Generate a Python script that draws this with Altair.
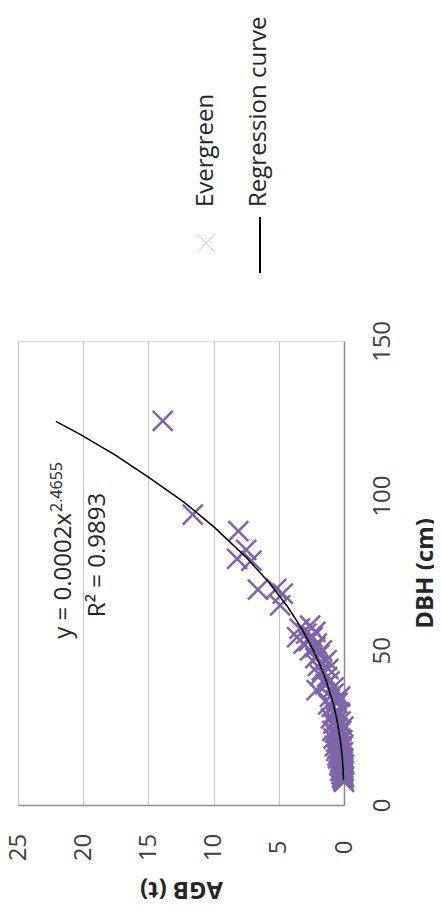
import altair as alt
import pandas as pd

# ---- data read from the (rotated) reference ----
dbh = [124.2, 93.9, 88.5, 82.5, 79.6, 79.0, 69.6, 69.9, 68.3, 64.5,
       57.0, 55.4, 54.3, 54.3, 52.2, 52.2, 50.0, 50.0, 56.0, 53.0, 58.0, 51.0,
       8.0, 8.5, 9.0, 9.5, 10.0, 10.0, 10.5, 11.0, 11.0, 11.5, 12.0, 12.0, 12.5,
       13.0, 13.0, 13.5, 14.0, 14.0, 14.5, 15.0, 15.0, 15.5, 16.0, 16.0, 17.0,
       17.0, 17.5, 18.0, 18.5, 19.0, 19.0, 20.0, 20.5, 21.0, 21.5, 22.0, 23.0,
       23.5, 24.0, 25.3, 25.0, 26.3, 27.0, 28.0, 29.6, 30.0, 31.7, 32.5, 34.0,
       35.0, 35.0, 36.0, 37.1, 38.0, 39.0, 40.0, 41.4, 42.0, 43.5, 44.0, 45.0,
       46.8, 47.5, 48.5,
       7.5, 9.0, 11.0, 13.0, 15.0, 17.0, 19.0, 21.0, 24.0, 27.0, 30.0, 33.0]
agb = [13.9, 11.6, 8.1, 7.5, 8.2, 7.1, 6.6, 5.2, 4.7, 4.9,
       3.4, 2.9, 3.6, 2.4, 3.1, 2.1, 2.6, 1.7, 2.2, 2.7, 2.6, 2.2,
       0.05, 0.1, 0.15, 0.05, 0.1, 0.2, 0.08, 0.15, 0.3, 0.1, 0.2, 0.05, 0.25,
       0.12, 0.35, 0.2, 0.1, 0.3, 0.18, 0.25, 0.45, 0.15, 0.3, 0.5, 0.2,
       0.4, 0.6, 0.3, 0.5, 0.25, 0.7, 0.4, 0.6, 0.3, 0.8, 0.56, 0.4,
       0.7, 0.9, 0.05, 0.5, 0.82, 0.6, 1.0, 0.3, 0.7, 0.94, 1.2, 0.6,
       1.07, 0.3, 0.8, 2.1, 0.8, 1.4, 1.1, 1.3, 1.84, 1.7, 1.2, 2.0,
       1.33, 2.2, 1.9,
       0.0, 0.0, 0.02, 0.0, 0.05, 0.08, 0.1, 0.12, 0.2, 0.25, 0.4, 0.5]

curve_dbh = [8, 15, 21, 28, 33, 40, 45, 50, 57, 64, 72, 80, 90, 98, 106, 113, 120, 124]
curve_agb = [0.03, 0.12, 0.28, 0.56, 0.84, 1.35, 1.81, 2.35, 3.24, 4.31, 5.77, 7.49,
             10.0, 12.3, 15.0, 17.5, 20.3, 22.1]

agb_ticks = [0, 5, 10, 15, 20, 25]
dbh_ticks = [0, 50, 100, 150]
legend_labels = ["Evergreen", "Regression curve"]
eq_main = "y = 0.0002x"
eq_exp = "2.4655"
eq_r2 = "R² = 0.9893"

FONT = "Open Sans"
PURPLE = "#7f65a8"
XSHAPE = "M-1,-1L1,1M1,-1L-1,1"

pts = pd.DataFrame({"DBH": dbh, "AGB": agb})
crv = pd.DataFrame({"DBH": curve_dbh, "AGB": curve_agb})

xenc = alt.X("AGB:Q",
             scale=alt.Scale(domain=[0, 25], reverse=True, nice=False),
             axis=alt.Axis(values=agb_ticks, title="AGB (t)", orient="bottom",
                           labelAngle=-90, labelAlign="center", labelBaseline="middle",
                           labelPadding=42, ticks=False, grid=True,
                           gridColor="#c4c4c4", gridWidth=1,
                           domainColor="#8c8c8c", domainWidth=1.5,
                           labelFontSize=24, labelColor="#404040", labelFont=FONT,
                           titleAngle=180, titleX=163, titleY=83,
                           titleAlign="center", titleBaseline="middle",
                           titleFontSize=24, titleFontWeight="bold",
                           titleColor="#262626", titleFont=FONT))
yenc = alt.Y("DBH:Q",
             scale=alt.Scale(domain=[0, 150], nice=False),
             axis=alt.Axis(values=dbh_ticks, title="DBH (cm)", orient="right",
                           labelAngle=-90, labelAlign="center", labelBaseline="middle",
                           labelPadding=38, ticks=False, grid=False,
                           domainColor="#8c8c8c", domainWidth=1.5,
                           labelFontSize=24, labelColor="#404040", labelFont=FONT,
                           titleAngle=-90, titleX=81, titleY=232,
                           titleAlign="center", titleBaseline="middle",
                           titleFontSize=24, titleFontWeight="bold",
                           titleColor="#262626", titleFont=FONT))

points = alt.Chart(pts).mark_point(shape=XSHAPE, filled=False, size=400,
                                   strokeWidth=2.5, color=PURPLE, opacity=1).encode(
    x=xenc, y=yenc)

line = alt.Chart(crv).mark_line(color="black", strokeWidth=1.5).encode(
    x="AGB:Q", y="DBH:Q", order="DBH:Q")

ann = pd.DataFrame({"main": [eq_main], "exp": [eq_exp], "r2": [eq_r2]})
t_main = alt.Chart(ann).mark_text(angle=270, align="right", baseline="middle",
                                  fontSize=24, font=FONT, color="#262626").encode(
    text="main:N", x=alt.value(46), y=alt.value(172))
t_exp = alt.Chart(ann).mark_text(angle=270, align="left", baseline="middle",
                                 fontSize=16, font=FONT, color="#262626").encode(
    text="exp:N", x=alt.value(39), y=alt.value(171))
t_r2 = alt.Chart(ann).mark_text(angle=270, align="center", baseline="middle",
                                fontSize=24, font=FONT, color="#262626").encode(
    text="r2:N", x=alt.value(80), y=alt.value(214))

leg = pd.DataFrame({"label": legend_labels})
leg_sym = alt.Chart(leg.iloc[[0]]).mark_point(shape=XSHAPE, filled=False, size=300,
                                               strokeWidth=1, color="#c9c8ee", opacity=1).encode(
    x=alt.value(188), y=alt.value(-98))
leg_rule = alt.Chart(leg.iloc[[1]]).mark_rule(color="black", strokeWidth=2).encode(
    x=alt.value(242), y=alt.value(-124), y2=alt.value(-68))
leg_t1 = alt.Chart(leg.iloc[[0]]).mark_text(angle=270, align="left", baseline="middle",
                                            fontSize=24, font=FONT, color="#262626").encode(
    text="label:N", x=alt.value(188), y=alt.value(-134))
leg_t2 = alt.Chart(leg.iloc[[1]]).mark_text(angle=270, align="left", baseline="middle",
                                            fontSize=24, font=FONT, color="#262626").encode(
    text="label:N", x=alt.value(241), y=alt.value(-134))

chart = alt.layer(points, line, t_main, t_exp, t_r2, leg_sym, leg_rule, leg_t1, leg_t2).properties(
    width=326, height=464,
    autosize=alt.AutoSizeParams(type="none"),
    padding={"left": 10, "top": 333, "right": 90, "bottom": 99},
).configure_view(stroke="transparent").configure(font=FONT)

chart.save("out.html", embed_options={"renderer": "svg", "actions": False})
